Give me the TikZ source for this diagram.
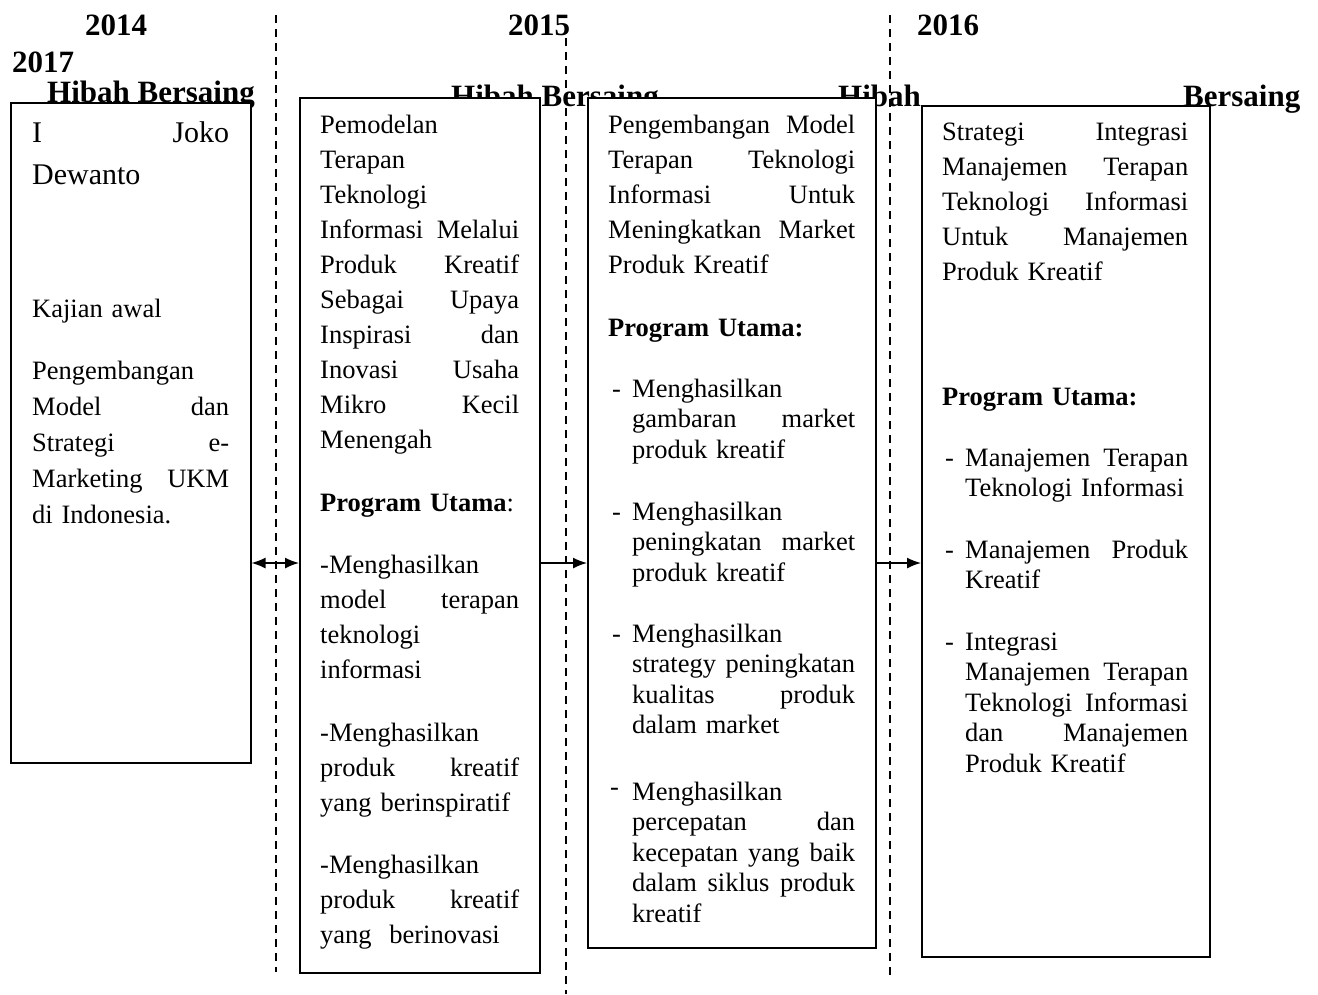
\documentclass[tikz,border=0pt]{standalone}
\usepackage{fontspec}
\setmainfont{Liberation Serif}
\usetikzlibrary{arrows.meta}
\newcommand\J[3]{\leavevmode\hbox to #1pt{#2\hfill#3}}
\newcommand\JJ[4]{\leavevmode\hbox to #1pt{#2\hfill#3\hfill#4}}
\hbadness=10000 \vbadness=10000 \hfuzz=5pt
\tikzset{
  box/.style={draw, line width=1.5pt, fill=white, anchor=north west, inner sep=0pt},
  txt/.style={anchor=base west, inner sep=0pt, align=left, font=\fontsize{26.5}{35}\selectfont},
  itm/.style={anchor=base west, inner sep=0pt, align=left, font=\fontsize{26.5}{30.6}\selectfont},
  hdr/.style={anchor=base west, inner sep=0pt, font=\fontsize{31}{36}\selectfont\bfseries},
  sep/.style={line width=1.3pt, dash pattern=on 8pt off 6pt},
  conn/.style={line width=1.5pt},
  tip/.style={-{Latex[length=14pt,width=11pt]}}
}
\begin{document}
\begin{tikzpicture}[x=1pt,y=-1pt]
\useasboundingbox (0,0) rectangle (1318,994);
% headers
\node[hdr] (h2014) at (85,35) {2014};
\node[hdr] (h2015) at (508,35) {2015};
\node[hdr] (h2016) at (917,35) {2016};
\node[hdr] (h2017) at (12,72) {2017};
\node[hdr] (hb1) at (47,102) {Hibah Bersaing};
\node[hdr] (hb2) at (451,106) {Hibah Bersaing};
\node[hdr] (hb3) at (838,106) {Hibah};
\node[hdr] (hb4) at (1183,106) {Bersaing};
% boxes
\node[box, minimum width=240pt, minimum height=660pt] (b1) at (10,102) {};
\node[box, minimum width=240pt, minimum height=875pt] (b2) at (299,97) {};
\node[box, minimum width=288pt, minimum height=850pt] (b3) at (587,97) {};
\node[box, minimum width=288pt, minimum height=851pt] (b4) at (921,105) {};
% box 1 text
\node[txt, text width=197pt, font=\fontsize{30}{42}\selectfont] (t1a) at (32,142) {\J{197}{I}{Joko}\\Dewanto};
\node[txt, text width=197pt] (t1b) at (32,317) {Kajian awal};
\node[txt, text width=197pt, font=\fontsize{26.5}{36}\selectfont] (t1c) at (32,379) {Pengembangan\\\J{197}{Model}{dan}\\\J{197}{Strategi}{e-}\\\J{197}{Marketing}{UKM}\\di Indonesia.};
% box 2 text
\node[txt, text width=199pt] (t2a) at (320,133) {Pemodelan\\Terapan\\Teknologi\\\J{199}{Informasi}{Melalui}\\\J{199}{Produk}{Kreatif}\\\J{199}{Sebagai}{Upaya}\\\J{199}{Inspirasi}{dan}\\\J{199}{Inovasi}{Usaha}\\\J{199}{Mikro}{Kecil}\\Menengah};
\node[txt, text width=199pt] (t2b) at (320,511) {\textbf{Program Utama}:};
\node[txt, text width=199pt] (t2c) at (320,573) {-Menghasilkan\\\J{199}{model}{terapan}\\teknologi\\informasi};
\node[txt, text width=199pt] (t2d) at (320,741) {-Menghasilkan\\\J{199}{produk}{kreatif}\\yang berinspiratif};
\node[txt, text width=199pt] (t2e) at (320,873) {-Menghasilkan\\\J{199}{produk}{kreatif}\\yang\ \ berinovasi};
% box 3 text
\node[txt, text width=247pt] (t3a) at (608,133) {\J{247}{Pengembangan}{Model}\\\J{247}{Terapan}{Teknologi}\\\J{247}{Informasi}{Untuk}\\\J{247}{Meningkatkan}{Market}\\Produk Kreatif};
\node[txt, text width=247pt] (t3b) at (608,336) {\textbf{Program Utama:}};
\node[itm] (d3a) at (612,397) {-};
\node[itm, text width=223pt] (t3c) at (632,397) {Menghasilkan\\\J{223}{gambaran}{market}\\produk kreatif};
\node[itm] (d3b) at (612,520) {-};
\node[itm, text width=223pt] (t3d) at (632,520) {Menghasilkan\\\J{223}{peningkatan}{market}\\produk kreatif};
\node[itm] (d3c) at (612,642) {-};
\node[itm, text width=223pt] (t3e) at (632,642) {Menghasilkan\\\J{223}{strategy}{peningkatan}\\\J{223}{kualitas}{produk}\\dalam market};
\node[itm] (d3d) at (610,795) {-};
\node[itm, text width=223pt] (t3f) at (632,800) {Menghasilkan\\\J{223}{percepatan}{dan}\\\JJ{223}{kecepatan}{yang}{baik}\\\JJ{223}{dalam}{siklus}{produk}\\kreatif};
% box 4 text
\node[txt, text width=246pt] (t4a) at (942,140) {\J{246}{Strategi}{Integrasi}\\\J{246}{Manajemen}{Terapan}\\\J{246}{Teknologi}{Informasi}\\\J{246}{Untuk}{Manajemen}\\Produk Kreatif};
\node[txt, text width=246pt] (t4b) at (942,405) {\textbf{Program Utama:}};
\node[itm] (d4a) at (945,466) {-};
\node[itm, text width=223pt] (t4c) at (965,466) {\J{223}{Manajemen}{Terapan}\\Teknologi Informasi};
\node[itm] (d4b) at (945,558) {-};
\node[itm, text width=223pt] (t4d) at (965,558) {\J{223}{Manajemen}{Produk}\\Kreatif};
\node[itm] (d4c) at (945,650) {-};
\node[itm, text width=223pt] (t4e) at (965,650) {Integrasi\\\J{223}{Manajemen}{Terapan}\\\J{223}{Teknologi}{Informasi}\\\J{223}{dan}{Manajemen}\\Produk Kreatif};
% dashed separators
\coordinate (s1t) at (276,15); \coordinate (s1b) at (276,972);
\coordinate (s2t) at (566,38); \coordinate (s2b) at (566,994);
\coordinate (s3t) at (890,15); \coordinate (s3b) at (890,975);
\draw[sep] (s1t) -- (s1b);
\draw[sep] (s2t) -- (s2b);
\draw[sep] (s3t) -- (s3b);
% connectors
\coordinate (ay) at (0,563);
\draw[conn, {Latex[length=14pt,width=11pt]}-{Latex[length=14pt,width=11pt]}] (b1.east |- ay) -- (b2.west |- ay);
\draw[conn, tip] (b2.east |- ay) -- (b3.west |- ay);
\draw[conn, tip] (b3.east |- ay) -- (b4.west |- ay);
\end{tikzpicture}
\end{document}
